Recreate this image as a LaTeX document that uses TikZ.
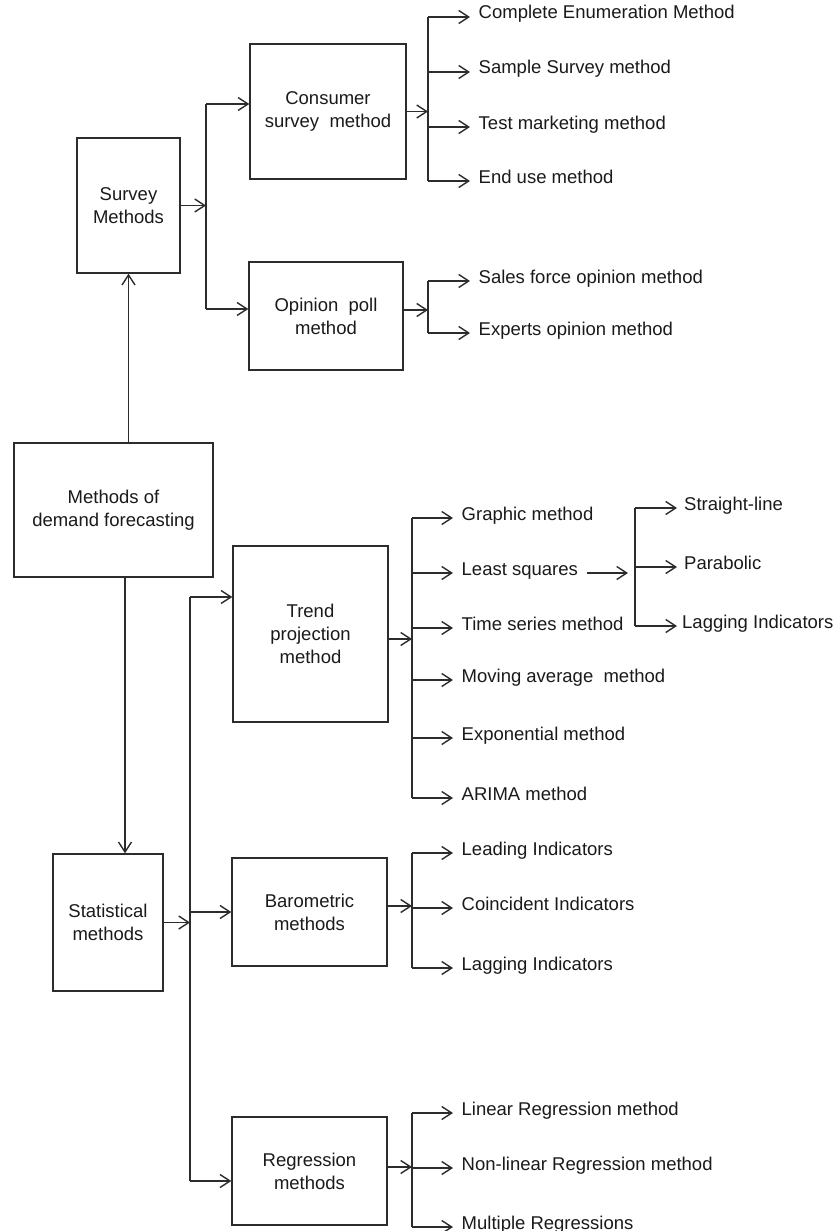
\documentclass[tikz,border=0pt]{standalone}
\usepackage{fontspec}
\setmainfont{Liberation Sans}
\usetikzlibrary{arrows.meta}
\definecolor{lnc}{HTML}{2C2C2C}
\definecolor{txc}{HTML}{1A1A1A}
\begin{document}
\begin{tikzpicture}[x=1pt,y=-1pt,
  ln/.style={draw=lnc, line width=1.4pt},
  arr/.style={ln, -{Straight Barb[length=10pt,width=13pt,line width=1.4pt]}},
  box/.style={draw=lnc, line width=1.4pt, align=center, inner sep=0pt, text=txc,
    font=\fontsize{18.5}{23}\selectfont},
  leaf/.style={anchor=west, inner xsep=8.5pt, inner ysep=0pt, text=txc,
    text height=8pt, text depth=4pt, font=\fontsize{18.5}{22}\selectfont}]
\useasboundingbox[fill=white] (0,0) rectangle (837,1231);

% ---- boxes
\node[box, minimum width=103pt, minimum height=135pt] (survey)   at (128.5,205.5) {Survey\\Methods};
\node[box, minimum width=156pt, minimum height=135pt] (consumer) at (328,111.5)   {Consumer\\survey\ \ method};
\node[box, minimum width=154pt, minimum height=108pt] (opinion)  at (326,316)     {Opinion\ \ poll\\method};
\node[box, minimum width=199pt, minimum height=134pt] (mdf)      at (113.5,510)   {Methods of\\demand forecasting};
\node[box, minimum width=155pt, minimum height=176pt] (trend)    at (310.5,634)   {Trend\\projection\\method};
\node[box, minimum width=110pt, minimum height=137pt] (stat)     at (108,922.5)   {Statistical\\methods};
\node[box, minimum width=155pt, minimum height=108pt] (baro)     at (309.5,912)   {Barometric\\methods};
\node[box, minimum width=155pt, minimum height=108pt] (regr)     at (309.5,1171)  {Regression\\methods};

% ---- leaves
\node[leaf] (cem) at (470,17)  {Complete Enumeration Method};
\node[leaf] (sam) at (470,72)  {Sample Survey method};
\node[leaf] (tes) at (470,127) {Test marketing method};
\node[leaf] (enu) at (470,181) {End use method};
\node[leaf] (sfo) at (470,281) {Sales force opinion method};
\node[leaf] (eom) at (470,333) {Experts opinion method};

\node[leaf] (gra) at (453,518) {Graphic method};
\node[leaf] (lsq) at (453,573) {Least squares};
\node[leaf] (tsm) at (453,628) {Time series method};
\node[leaf] (mav) at (453,680) {Moving average\ \ method};
\node[leaf] (exm) at (453,738) {Exponential method};
\node[leaf] (ari) at (453,798) {ARIMA method};

\node[leaf, inner xsep=7pt] (stl) at (677,508) {Straight-line};
\node[leaf, inner xsep=7pt] (par) at (677,567) {Parabolic};
\node[leaf, inner xsep=5pt] (lgA) at (677,626) {Lagging Indicators};

\node[leaf] (led) at (453,853) {Leading Indicators};
\node[leaf] (coi) at (453,908) {Coincident Indicators};
\node[leaf] (lgB) at (453,968) {Lagging Indicators};

\node[leaf] (lin) at (453,1113) {Linear Regression method};
\node[leaf] (nlr) at (453,1168) {Non-linear Regression method};
\node[leaf] (mul) at (453,1227) {Multiple Regressions};

% ---- bus coordinates
\coordinate (sb) at (206,0);
\coordinate (cb) at (428,0);
\coordinate (ob) at (428,0);
\coordinate (bb) at (190,0);
\coordinate (tb) at (412,0);
\coordinate (lb) at (635,0);
\coordinate (rb) at (412,0);
\coordinate (gb) at (412,0);
\coordinate (sx) at (125,0);

% ---- shifted attachment points on boxes
\coordinate (cw) at ([yshift=7.5pt]consumer.west);
\coordinate (ow) at ([yshift=7pt]opinion.west);
\coordinate (oe) at ([yshift=6pt]opinion.east);
\coordinate (tw) at ([yshift=37pt]trend.west);
\coordinate (te) at ([yshift=-5pt]trend.east);
\coordinate (be) at ([yshift=6pt]baro.east);
\coordinate (rw) at ([yshift=-10pt]regr.west);
\coordinate (re) at ([yshift=4pt]regr.east);
\coordinate (lse) at ([xshift=0pt]lsq.east);

% ---- main vertical links
\draw[arr] (survey.south |- mdf.north) -- (survey.south);
\draw[arr] (sx |- mdf.south) -- (sx |- stat.north);

% ---- survey methods
\draw[arr] (survey.east) -- (sb |- survey.east);
\draw[ln] (sb |- cw) -- (sb |- ow);
\draw[arr] (sb |- cw) -- (cw);
\draw[arr] (sb |- ow) -- (ow);

\draw[arr] (consumer.east) -- (cb |- consumer.east);
\draw[ln] (cb |- cem.west) -- (cb |- enu.west);
\foreach \n in {cem,sam,tes,enu} \draw[arr] (cb |- \n.west) -- (\n.west);

\draw[arr] (oe) -- (ob |- oe);
\draw[ln] (ob |- sfo.west) -- (ob |- eom.west);
\foreach \n in {sfo,eom} \draw[arr] (ob |- \n.west) -- (\n.west);

% ---- statistical methods
\draw[arr] (stat.east) -- (bb |- stat.east);
\draw[ln] (bb |- tw) -- (bb |- rw);
\draw[arr] (bb |- tw) -- (tw);
\draw[arr] (bb |- baro.west) -- (baro.west);
\draw[arr] (bb |- rw) -- (rw);

\draw[arr] (te) -- (tb |- te);
\draw[ln] (tb |- gra.west) -- (tb |- ari.west);
\foreach \n in {gra,lsq,tsm,mav,exm,ari} \draw[arr] (tb |- \n.west) -- (\n.west);

\draw[arr, shorten >=7pt] (lse) -- (lb |- lse);
\draw[ln] (lb |- stl.west) -- (lb |- lgA.west);
\foreach \n in {stl,par,lgA} \draw[arr] (lb |- \n.west) -- (\n.west);

\draw[arr] (be) -- (rb |- be);
\draw[ln] (rb |- led.west) -- (rb |- lgB.west);
\foreach \n in {led,coi,lgB} \draw[arr] (rb |- \n.west) -- (\n.west);

\draw[arr] (re) -- (gb |- re);
\draw[ln] (gb |- lin.west) -- (gb |- mul.west);
\foreach \n in {lin,nlr,mul} \draw[arr] (gb |- \n.west) -- (\n.west);
\end{tikzpicture}
\end{document}
